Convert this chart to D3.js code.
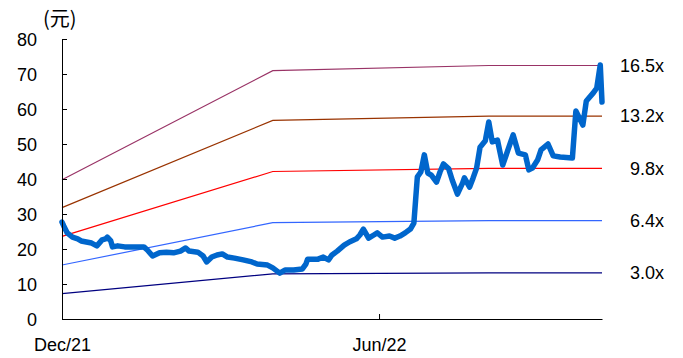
<!DOCTYPE html>
<html>
<head>
<meta charset="utf-8">
<script src="https://cdn.jsdelivr.net/npm/d3@7"></script>
<style>
  body { margin: 0; background: #fff; }
  svg text { font-family: "Liberation Sans", Arial, sans-serif; fill: #000; }
</style>
</head>
<body>
<div id="chart"></div>
<script>
// 股价数据 (元)
const priceDates = [
  '2021-12-01','2021-12-02','2021-12-04','2021-12-07','2021-12-10','2021-12-12','2021-12-15','2021-12-18',
  '2021-12-21','2021-12-24','2021-12-26','2021-12-27','2021-12-29','2021-12-30','2022-01-02','2022-01-06',
  '2022-01-11','2022-01-17','2022-01-19','2022-01-22','2022-01-26','2022-01-30','2022-02-03','2022-02-07',
  '2022-02-10','2022-02-12','2022-02-17','2022-02-20','2022-02-22','2022-02-25','2022-02-28','2022-03-03',
  '2022-03-06','2022-03-10','2022-03-15','2022-03-20','2022-03-23','2022-03-29','2022-04-01','2022-04-05',
  '2022-04-08','2022-04-13','2022-04-18','2022-04-20','2022-04-21','2022-04-24','2022-04-27','2022-04-30',
  '2022-05-03','2022-05-05','2022-05-08','2022-05-12','2022-05-15','2022-05-19','2022-05-21','2022-05-23',
  '2022-05-26','2022-05-29','2022-05-31','2022-06-03','2022-06-07','2022-06-10','2022-06-13','2022-06-16',
  '2022-06-19','2022-06-21','2022-06-22','2022-06-23','2022-06-25','2022-06-27','2022-06-29','2022-07-01',
  '2022-07-04','2022-07-06','2022-07-08','2022-07-11','2022-07-13','2022-07-16','2022-07-19','2022-07-20',
  '2022-07-23','2022-07-25','2022-07-27','2022-07-29','2022-08-01','2022-08-03','2022-08-05','2022-08-08',
  '2022-08-11','2022-08-14','2022-08-17','2022-08-20','2022-08-24','2022-08-26','2022-08-28','2022-08-31',
  '2022-09-02','2022-09-06','2022-09-09','2022-09-13','2022-09-20','2022-09-22','2022-09-24','2022-09-26',
  '2022-09-28','2022-10-02','2022-10-04','2022-10-06','2022-10-07'
];
const priceValues = [
  27.7, 26.6, 24.6, 23.4, 22.9, 22.3, 22.0, 21.7,
  20.9, 22.6, 22.9, 23.4, 22.3, 20.6, 20.9, 20.6,
  20.6, 20.6, 19.7, 18.0, 18.9, 19.1, 18.9, 19.4,
  20.3, 19.4, 19.1, 18.0, 16.3, 17.7, 18.3, 18.6,
  17.7, 17.4, 16.9, 16.3, 15.7, 15.4, 14.6, 13.1,
  14.0, 14.0, 14.3, 15.7, 17.1, 17.1, 17.1, 17.7,
  16.9, 18.3, 19.4, 21.1, 22.0, 22.9, 24.0, 25.7,
  23.1, 24.0, 24.6, 23.4, 23.7, 23.1, 23.7, 24.6,
  25.7, 27.4, 34.0, 40.6, 42.0, 46.9, 41.7, 41.1,
  39.1, 42.0, 44.3, 42.9, 39.7, 35.7, 38.9, 40.3,
  37.7, 40.3, 43.1, 49.1, 50.9, 56.3, 50.6, 51.1,
  44.0, 48.3, 52.6, 47.4, 46.9, 42.6, 43.1, 45.4,
  48.3, 50.0, 46.6, 46.3, 46.0, 59.4, 57.4, 55.4,
  62.3, 64.6, 66.0, 72.6, 62.0
];

// 每股收益 (PE band 基准)
const epsDates = ['2021-12-01', '2022-04-01', '2022-08-03', '2022-10-07'];
const epsValues = [2.41, 4.30, 4.39, 4.39];

// PE 倍数
const peMultiples = [3.0, 6.4, 9.8, 13.2, 16.5];
const peLabels = ['3.0x', '6.4x', '9.8x', '13.2x', '16.5x'];
const peColors = ['#000080', '#3366ff', '#ff0000', '#993300', '#993366'];

const yTicks = [0, 10, 20, 30, 40, 50, 60, 70, 80];
const xTickDates = ['2021-12-01', '2022-06-01'];
const xTickLabels = ['Dec/21', 'Jun/22'];

(function() {
    const W = 683, H = 358;
    const margin = { top: 39, right: 81, bottom: 39, left: 62 };
    const width = W - margin.left - margin.right;
    const height = H - margin.top - margin.bottom;
    const parse = d3.timeParse('%Y-%m-%d');

    const svg = d3.select('#chart').append('svg')
        .attr('width', W)
        .attr('height', H);

    const g = svg.append('g')
        .attr('transform', `translate(${margin.left},${margin.top})`);

    const x = d3.scaleTime()
        .domain([parse('2021-12-01'), parse('2022-10-07')])
        .range([0, width]);

    const y = d3.scaleLinear()
        .domain([0, 80])
        .range([height, 0]);

    // PE bands
    const eps = epsDates.map((d, i) => ({ date: parse(d), eps: epsValues[i] }));
    const bandLine = m => d3.line()
        .x(d => x(d.date))
        .y(d => y(d.eps * m));

    peMultiples.forEach((m, i) => {
        g.append('path')
            .datum(eps)
            .attr('fill', 'none')
            .attr('stroke', peColors[i])
            .attr('stroke-width', 1.2)
            .attr('d', bandLine(m));

        const last = eps[eps.length - 1];
        g.append('text')
            .attr('x', width + 62)
            .attr('y', y(last.eps * m))
            .attr('dy', '0.35em')
            .attr('text-anchor', 'end')
            .style('font-size', '18px')
            .text(peLabels[i]);
    });

    // 股价线
    const price = priceDates.map((d, i) => ({ date: parse(d), v: priceValues[i] }));
    g.append('path')
        .datum(price)
        .attr('fill', 'none')
        .attr('stroke', '#0066cc')
        .attr('stroke-width', 5.5)
        .attr('stroke-linejoin', 'round')
        .attr('stroke-linecap', 'round')
        .attr('d', d3.line().x(d => x(d.date)).y(d => y(d.v)));

    // 坐标轴
    const yAxis = g.append('g')
        .call(d3.axisLeft(y).tickValues(yTicks).tickSize(-5).tickPadding(25).tickSizeOuter(0));
    yAxis.selectAll('text').style('font-size', '18px').attr('dy', '0.35em');

    const xAxis = g.append('g')
        .attr('transform', `translate(0,${height})`)
        .call(d3.axisBottom(x)
            .tickValues(xTickDates.map(parse))
            .tickFormat((d, i) => xTickLabels[i])
            .tickSize(-5)
            .tickSizeOuter(0));
    xAxis.selectAll('text').style('font-size', '18px').attr('y', 32).attr('dy', 0);

    svg.selectAll('.domain, .tick line').attr('stroke', '#000');

    // 单位
    svg.append('text')
        .attr('x', 43)
        .attr('y', 26)
        .style('font-size', '20px')
        .style('font-family', '"Noto Sans CJK SC", sans-serif')
        .text('(元)');
})();
</script>
</body>
</html>
